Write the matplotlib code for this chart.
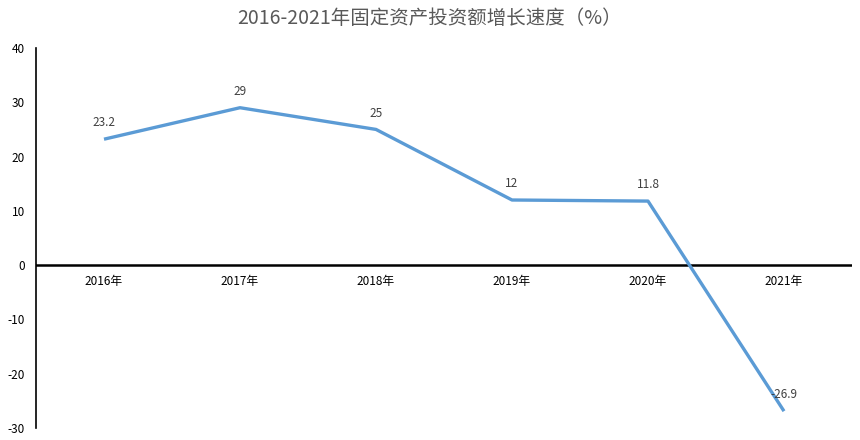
import matplotlib
matplotlib.use("Agg")
import matplotlib.pyplot as plt

years = ["2016年", "2017年", "2018年", "2019年", "2020年", "2021年"]
growth = [23.2, 29, 25, 12, 11.8, -26.9]
labels = ["23.2", "29", "25", "12", "11.8", "-26.9"]
yticks = [-30, -20, -10, 0, 10, 20, 30, 40]

plt.rcParams['font.family'] = ['Noto Sans CJK SC', 'DejaVu Sans']

fig = plt.figure(figsize=(8.6, 4.4), dpi=100)
ax = fig.add_axes([36/860, 1-428/440, (852-36)/860, (428-48)/440])

x = list(range(len(years)))
ax.plot(x, growth, color="#5B9BD5", linewidth=2.4, solid_capstyle="butt", zorder=3)
for xi, yi, lb in zip(x, growth, labels):
    ax.annotate(lb, (xi, yi), xytext=(0, 7), textcoords="offset points",
                ha="center", va="bottom", fontsize=8.5, color="#404040")

ax.set_xlim(-0.5, len(years) - 0.5)
ax.set_ylim(-30, 40)
ax.set_yticks(yticks)
ax.set_yticklabels([str(t) for t in yticks], fontsize=8.5, color="#000000")
ax.tick_params(axis="y", length=0, pad=8)

for s in ["top", "right", "bottom"]:
    ax.spines[s].set_visible(False)
ax.spines["left"].set_linewidth(1.2)
ax.spines["left"].set_color("#000000")
ax.axhline(0, color="#000000", linewidth=1.8, zorder=2)

ax.set_xticks([])
for xi, lb in zip(x, years):
    ax.annotate(lb, (xi, 0), xytext=(0, -7), textcoords="offset points",
                ha="center", va="top", fontsize=8.5, color="#000000")

fig.text(0.5, 1 - 18/440, "2016-2021年固定资产投资额增长速度（%）", ha="center", va="center",
         fontsize=14, color="#595959")

fig.savefig("out.png", dpi=100)
